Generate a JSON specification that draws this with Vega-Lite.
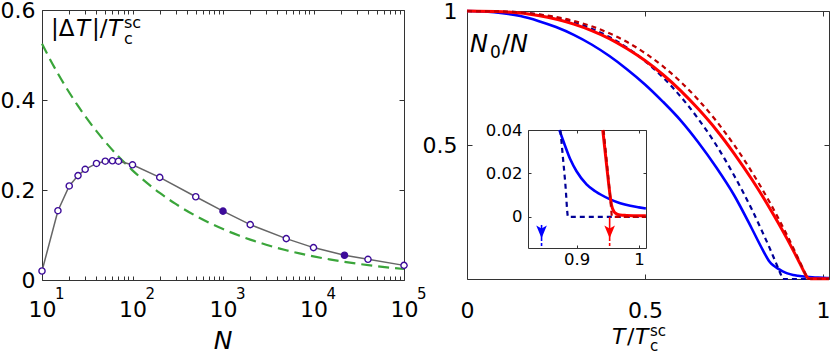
{
  "$schema": "https://vega.github.io/schema/vega-lite/v6.json",
  "width": 830,
  "height": 355,
  "autosize": {"type": "none"},
  "padding": 0,
  "background": "white",
  "datasets": {
    "pts": [
      {"N": 10, "v": 0.020, "filled": false},
      {"N": 15, "v": 0.154, "filled": false},
      {"N": 20, "v": 0.209, "filled": false},
      {"N": 25, "v": 0.232, "filled": false},
      {"N": 30, "v": 0.246, "filled": false},
      {"N": 40, "v": 0.259, "filled": false},
      {"N": 50, "v": 0.264, "filled": false},
      {"N": 60, "v": 0.265, "filled": false},
      {"N": 70, "v": 0.264, "filled": false},
      {"N": 100, "v": 0.256, "filled": false},
      {"N": 200, "v": 0.228, "filled": false},
      {"N": 500, "v": 0.185, "filled": false},
      {"N": 1000, "v": 0.153, "filled": true},
      {"N": 2000, "v": 0.123, "filled": false},
      {"N": 5000, "v": 0.092, "filled": false},
      {"N": 10000, "v": 0.072, "filled": false},
      {"N": 22000, "v": 0.055, "filled": true},
      {"N": 40000, "v": 0.046, "filled": false},
      {"N": 100000, "v": 0.0325, "filled": false}
    ],
    "green": [
      {"N": 10, "v": 0.525}, {"N": 12, "v": 0.494}, {"N": 15, "v": 0.4587}, {"N": 20, "v": 0.4167},
      {"N": 25, "v": 0.3868}, {"N": 30, "v": 0.364}, {"N": 40, "v": 0.3307}, {"N": 50, "v": 0.307},
      {"N": 70, "v": 0.2745}, {"N": 100, "v": 0.2437}, {"N": 150, "v": 0.2129}, {"N": 200, "v": 0.1934},
      {"N": 300, "v": 0.169}, {"N": 500, "v": 0.1425}, {"N": 700, "v": 0.1274}, {"N": 1000, "v": 0.1131},
      {"N": 1500, "v": 0.0988}, {"N": 2000, "v": 0.0898}, {"N": 3000, "v": 0.0784}, {"N": 5000, "v": 0.0661},
      {"N": 7000, "v": 0.0591}, {"N": 10000, "v": 0.0525}, {"N": 15000, "v": 0.0459}, {"N": 20000, "v": 0.0417},
      {"N": 30000, "v": 0.0364}, {"N": 50000, "v": 0.0307}, {"N": 70000, "v": 0.0274}, {"N": 100000, "v": 0.0244}
    ],
    "exps": [
      {"N": 10, "e": "1"}, {"N": 100, "e": "2"}, {"N": 1000, "e": "3"}, {"N": 10000, "e": "4"}, {"N": 100000, "e": "5"}
    ],
    "curves": [
      {"s": "bs", "t": 0, "v": 1}, {"s": "bs", "t": 0.05, "v": 0.998}, {"s": "bs", "t": 0.1, "v": 0.992},
      {"s": "bs", "t": 0.15, "v": 0.981}, {"s": "bs", "t": 0.2, "v": 0.963}, {"s": "bs", "t": 0.25, "v": 0.94},
      {"s": "bs", "t": 0.3, "v": 0.911}, {"s": "bs", "t": 0.35, "v": 0.875}, {"s": "bs", "t": 0.4, "v": 0.832},
      {"s": "bs", "t": 0.45, "v": 0.782}, {"s": "bs", "t": 0.5, "v": 0.726}, {"s": "bs", "t": 0.55, "v": 0.662},
      {"s": "bs", "t": 0.6, "v": 0.592}, {"s": "bs", "t": 0.65, "v": 0.5095}, {"s": "bs", "t": 0.7, "v": 0.417},
      {"s": "bs", "t": 0.75, "v": 0.3135}, {"s": "bs", "t": 0.8, "v": 0.1885}, {"s": "bs", "t": 0.83, "v": 0.1105},
      {"s": "bs", "t": 0.85, "v": 0.0645}, {"s": "bs", "t": 0.86, "v": 0.051},
      {"s": "bs", "t": 0.8725, "v": 0.04}, {"s": "bs", "t": 0.88, "v": 0.034}, {"s": "bs", "t": 0.89, "v": 0.0265},
      {"s": "bs", "t": 0.9, "v": 0.021}, {"s": "bs", "t": 0.916, "v": 0.015}, {"s": "bs", "t": 0.93, "v": 0.0118},
      {"s": "bs", "t": 0.953, "v": 0.0082}, {"s": "bs", "t": 0.97, "v": 0.0063}, {"s": "bs", "t": 0.986, "v": 0.0051},
      {"s": "bs", "t": 1.0, "v": 0.0044}, {"s": "bs", "t": 1.011, "v": 0.0039}, {"s": "bs", "t": 1.0169, "v": 0.0037},

      {"s": "bd", "t": 0, "v": 1}, {"s": "bd", "t": 0.1, "v": 0.998}, {"s": "bd", "t": 0.2, "v": 0.987},
      {"s": "bd", "t": 0.3, "v": 0.958}, {"s": "bd", "t": 0.35, "v": 0.934}, {"s": "bd", "t": 0.4, "v": 0.903},
      {"s": "bd", "t": 0.45, "v": 0.863}, {"s": "bd", "t": 0.5, "v": 0.813}, {"s": "bd", "t": 0.55, "v": 0.753},
      {"s": "bd", "t": 0.6, "v": 0.681}, {"s": "bd", "t": 0.65, "v": 0.597}, {"s": "bd", "t": 0.7, "v": 0.5},
      {"s": "bd", "t": 0.75, "v": 0.387}, {"s": "bd", "t": 0.8, "v": 0.26}, {"s": "bd", "t": 0.83, "v": 0.175},
      {"s": "bd", "t": 0.85, "v": 0.116}, {"s": "bd", "t": 0.86, "v": 0.085}, {"s": "bd", "t": 0.87, "v": 0.0535},
      {"s": "bd", "t": 0.8742, "v": 0.04}, {"s": "bd", "t": 0.878, "v": 0.028}, {"s": "bd", "t": 0.882, "v": 0.0155},
      {"s": "bd", "t": 0.8865, "v": 0}, {"s": "bd", "t": 1.011, "v": 0}, {"s": "bd", "t": 1.0169, "v": 0},

      {"s": "rs", "t": 0, "v": 1}, {"s": "rs", "t": 0.1, "v": 0.997}, {"s": "rs", "t": 0.2, "v": 0.983},
      {"s": "rs", "t": 0.3, "v": 0.951}, {"s": "rs", "t": 0.35, "v": 0.927}, {"s": "rs", "t": 0.4, "v": 0.897},
      {"s": "rs", "t": 0.45, "v": 0.859}, {"s": "rs", "t": 0.5, "v": 0.815}, {"s": "rs", "t": 0.55, "v": 0.763},
      {"s": "rs", "t": 0.6, "v": 0.703}, {"s": "rs", "t": 0.65, "v": 0.634}, {"s": "rs", "t": 0.7, "v": 0.557},
      {"s": "rs", "t": 0.75, "v": 0.469}, {"s": "rs", "t": 0.8, "v": 0.372}, {"s": "rs", "t": 0.85, "v": 0.265},
      {"s": "rs", "t": 0.9, "v": 0.148}, {"s": "rs", "t": 0.92, "v": 0.0975}, {"s": "rs", "t": 0.94, "v": 0.0455},
      {"s": "rs", "t": 0.942, "v": 0.04}, {"s": "rs", "t": 0.949, "v": 0.0216}, {"s": "rs", "t": 0.953, "v": 0.0115},
      {"s": "rs", "t": 0.956, "v": 0.0055}, {"s": "rs", "t": 0.96, "v": 0.0024}, {"s": "rs", "t": 0.965, "v": 0.0013},
      {"s": "rs", "t": 0.97, "v": 0.0009}, {"s": "rs", "t": 0.98, "v": 0.0007}, {"s": "rs", "t": 1.0, "v": 0.0005},
      {"s": "rs", "t": 1.011, "v": 0.0005}, {"s": "rs", "t": 1.0169, "v": 0.0005},

      {"s": "rd", "t": 0, "v": 1}, {"s": "rd", "t": 0.1, "v": 0.998}, {"s": "rd", "t": 0.2, "v": 0.988},
      {"s": "rd", "t": 0.3, "v": 0.963}, {"s": "rd", "t": 0.35, "v": 0.943}, {"s": "rd", "t": 0.4, "v": 0.917},
      {"s": "rd", "t": 0.45, "v": 0.884}, {"s": "rd", "t": 0.5, "v": 0.843}, {"s": "rd", "t": 0.55, "v": 0.794},
      {"s": "rd", "t": 0.6, "v": 0.736}, {"s": "rd", "t": 0.65, "v": 0.668}, {"s": "rd", "t": 0.7, "v": 0.59},
      {"s": "rd", "t": 0.75, "v": 0.501}, {"s": "rd", "t": 0.8, "v": 0.4}, {"s": "rd", "t": 0.85, "v": 0.287},
      {"s": "rd", "t": 0.9, "v": 0.161}, {"s": "rd", "t": 0.92, "v": 0.106}, {"s": "rd", "t": 0.94, "v": 0.0498},
      {"s": "rd", "t": 0.9433, "v": 0.04}, {"s": "rd", "t": 0.95, "v": 0.0207}, {"s": "rd", "t": 0.954, "v": 0.0089},
      {"s": "rd", "t": 0.957, "v": 0}, {"s": "rd", "t": 1.011, "v": 0}, {"s": "rd", "t": 1.0169, "v": 0}
    ],
    "arrows": [
      {"s": "b", "t": 0.844, "top": -0.0037, "head": -0.0066, "tip": -0.0097, "bottom": -0.0143},
      {"s": "r", "t": 0.953, "top": 0.0, "head": -0.0066, "tip": -0.0097, "bottom": -0.0143}
    ]
  },
  "layer": [
    {
      "layer": [
        {
          "data": {"name": "green"},
          "mark": {"type": "line", "color": "#3aa53a", "strokeWidth": 2.2, "strokeDash": [11, 6], "interpolate": "monotone"},
          "encoding": {
            "x": {"field": "N", "type": "quantitative",
              "scale": {"type": "log", "domain": [10, 100000], "range": [42, 404], "nice": false},
              "axis": {"orient": "bottom", "offset": -75, "title": null, "tickSize": -4, "labelPadding": 23, "labelDx": -2,
                "values": [10,20,30,40,50,60,70,80,90,100,200,300,400,500,600,700,800,900,1000,2000,3000,4000,5000,6000,7000,8000,9000,10000,20000,30000,40000,50000,60000,70000,80000,90000,100000],
                "labelExpr": "abs(log(datum.value)/LN10 - round(log(datum.value)/LN10)) < 0.001 ? '10' : ''"}},
            "y": {"field": "v", "type": "quantitative",
              "scale": {"domain": [0, 0.6], "range": [280, 10], "nice": false, "zero": false},
              "axis": {"orient": "left", "offset": -42, "title": null, "values": [0, 0.2, 0.4, 0.6], "format": "~g", "tickSize": -5, "labelPadding": 12}}
          }
        },
        {
          "data": {"name": "pts"},
          "mark": {"type": "line", "color": "#666666", "strokeWidth": 1.5},
          "encoding": {
            "x": {"field": "N", "type": "quantitative",
              "axis": {"orient": "top", "offset": -10, "title": null, "labels": false, "tickSize": -4,
                "values": [10,20,30,40,50,60,70,80,90,100,200,300,400,500,600,700,800,900,1000,2000,3000,4000,5000,6000,7000,8000,9000,10000,20000,30000,40000,50000,60000,70000,80000,90000,100000]}},
            "y": {"field": "v", "type": "quantitative",
              "axis": {"orient": "right", "offset": -426, "title": null, "labels": false, "values": [0, 0.2, 0.4, 0.6], "tickSize": -5}}
          }
        },
        {
          "data": {"name": "pts"},
          "mark": {"type": "point", "shape": "circle", "size": 38, "filled": true, "stroke": "#3d0c9a", "strokeWidth": 1.4, "opacity": 1},
          "encoding": {
            "x": {"field": "N", "type": "quantitative", "axis": null},
            "y": {"field": "v", "type": "quantitative", "axis": null},
            "fill": {"condition": {"test": "datum.filled", "value": "#3d0c9a"}, "value": "white"}
          }
        },
        {
          "data": {"name": "exps"},
          "mark": {"type": "text", "fontSize": 15, "align": "left", "baseline": "alphabetic", "dx": 13, "dy": 19, "color": "black"},
          "encoding": {
            "x": {"field": "N", "type": "quantitative", "axis": null},
            "y": {"datum": 0, "type": "quantitative", "axis": null},
            "text": {"field": "e"}
          }
        },
        {
          "data": {"values": [{}]},
          "mark": {"type": "text", "text": "N", "fontStyle": "italic", "fontSize": 25, "align": "center", "baseline": "alphabetic", "dy": 69, "color": "black"},
          "encoding": {"x": {"datum": 1000, "type": "quantitative", "axis": null}, "y": {"datum": 0, "type": "quantitative", "axis": null}}
        },
        {
          "data": {"values": [{}]},
          "mark": {"type": "text", "text": "|Δ", "fontSize": 23, "align": "left", "baseline": "alphabetic", "dx": 9, "dy": 26, "color": "black"},
          "encoding": {"x": {"datum": 10, "type": "quantitative", "axis": null}, "y": {"datum": 0.6, "type": "quantitative", "axis": null}}
        },
        {
          "data": {"values": [{}]},
          "mark": {"type": "text", "text": "T", "fontStyle": "italic", "fontSize": 23, "align": "left", "baseline": "alphabetic", "dx": 34, "dy": 26, "color": "black"},
          "encoding": {"x": {"datum": 10, "type": "quantitative", "axis": null}, "y": {"datum": 0.6, "type": "quantitative", "axis": null}}
        },
        {
          "data": {"values": [{}]},
          "mark": {"type": "text", "text": "|/", "fontSize": 23, "align": "left", "baseline": "alphabetic", "dx": 50, "dy": 26, "color": "black"},
          "encoding": {"x": {"datum": 10, "type": "quantitative", "axis": null}, "y": {"datum": 0.6, "type": "quantitative", "axis": null}}
        },
        {
          "data": {"values": [{}]},
          "mark": {"type": "text", "text": "T", "fontStyle": "italic", "fontSize": 23, "align": "left", "baseline": "alphabetic", "dx": 66, "dy": 26, "color": "black"},
          "encoding": {"x": {"datum": 10, "type": "quantitative", "axis": null}, "y": {"datum": 0.6, "type": "quantitative", "axis": null}}
        },
        {
          "data": {"values": [{}]},
          "mark": {"type": "text", "text": "sc", "fontSize": 16, "align": "left", "baseline": "alphabetic", "dx": 82, "dy": 18, "color": "black"},
          "encoding": {"x": {"datum": 10, "type": "quantitative", "axis": null}, "y": {"datum": 0.6, "type": "quantitative", "axis": null}}
        },
        {
          "data": {"values": [{}]},
          "mark": {"type": "text", "text": "c", "fontSize": 16, "align": "left", "baseline": "alphabetic", "dx": 82, "dy": 34, "color": "black"},
          "encoding": {"x": {"datum": 10, "type": "quantitative", "axis": null}, "y": {"datum": 0.6, "type": "quantitative", "axis": null}}
        }
      ],
      "resolve": {"axis": {"x": "independent", "y": "independent"}}
    },
    {
      "layer": [
        {
          "data": {"name": "curves"},
          "transform": [{"filter": "datum.s == 'bs'"}],
          "mark": {"type": "line", "color": "#0000ff", "strokeWidth": 2.6, "interpolate": "monotone"},
          "encoding": {
            "x": {"field": "t", "type": "quantitative",
              "scale": {"domain": [0, 1.0169], "range": [467, 829], "nice": false, "zero": false},
              "axis": {"orient": "bottom", "offset": -76, "title": null, "values": [0, 0.5, 1], "format": "~g", "tickSize": -5, "labelPadding": 26}},
            "y": {"field": "v", "type": "quantitative",
              "scale": {"domain": [0, 1], "range": [279, 11], "nice": false, "zero": false},
              "axis": {"orient": "left", "offset": -467, "title": null, "values": [0.5, 1], "format": "~g", "tickSize": -5, "labelPadding": 15}}
          }
        },
        {
          "data": {"name": "curves"},
          "transform": [{"filter": "datum.s == 'bd'"}],
          "mark": {"type": "line", "color": "#000096", "strokeWidth": 2.2, "strokeDash": [5, 4], "interpolate": "monotone"},
          "encoding": {
            "x": {"field": "t", "type": "quantitative",
              "axis": {"orient": "top", "offset": -11, "title": null, "labels": false, "values": [0, 0.5, 1], "tickSize": -5}},
            "y": {"field": "v", "type": "quantitative",
              "axis": {"orient": "right", "offset": -1, "title": null, "labels": false, "values": [0, 0.5, 1], "tickSize": -5}}
          }
        },
        {
          "data": {"name": "curves"},
          "transform": [{"filter": "datum.s == 'rs'"}],
          "mark": {"type": "line", "color": "#ff0000", "strokeWidth": 3, "interpolate": "monotone"},
          "encoding": {
            "x": {"field": "t", "type": "quantitative", "axis": null},
            "y": {"field": "v", "type": "quantitative", "axis": null}
          }
        },
        {
          "data": {"name": "curves"},
          "transform": [{"filter": "datum.s == 'rd'"}],
          "mark": {"type": "line", "color": "#c00000", "strokeWidth": 2.2, "strokeDash": [5, 4], "interpolate": "monotone"},
          "encoding": {
            "x": {"field": "t", "type": "quantitative", "axis": null},
            "y": {"field": "v", "type": "quantitative", "axis": null}
          }
        },
        {
          "data": {"values": [{}]},
          "mark": {"type": "text", "text": "N", "fontStyle": "italic", "fontSize": 24, "align": "left", "baseline": "alphabetic", "dx": 3, "dy": 41, "color": "black"},
          "encoding": {"x": {"datum": 0, "type": "quantitative", "axis": null}, "y": {"datum": 1, "type": "quantitative", "axis": null}}
        },
        {
          "data": {"values": [{}]},
          "mark": {"type": "text", "text": "0", "fontSize": 17, "align": "left", "baseline": "alphabetic", "dx": 23, "dy": 47, "color": "black"},
          "encoding": {"x": {"datum": 0, "type": "quantitative", "axis": null}, "y": {"datum": 1, "type": "quantitative", "axis": null}}
        },
        {
          "data": {"values": [{}]},
          "mark": {"type": "text", "text": "/", "fontSize": 24, "align": "left", "baseline": "alphabetic", "dx": 35, "dy": 41, "color": "black"},
          "encoding": {"x": {"datum": 0, "type": "quantitative", "axis": null}, "y": {"datum": 1, "type": "quantitative", "axis": null}}
        },
        {
          "data": {"values": [{}]},
          "mark": {"type": "text", "text": "N", "fontStyle": "italic", "fontSize": 24, "align": "left", "baseline": "alphabetic", "dx": 43, "dy": 41, "color": "black"},
          "encoding": {"x": {"datum": 0, "type": "quantitative", "axis": null}, "y": {"datum": 1, "type": "quantitative", "axis": null}}
        },
        {
          "data": {"values": [{}]},
          "mark": {"type": "text", "text": "T", "fontStyle": "italic", "fontSize": 22, "align": "left", "baseline": "alphabetic", "dx": 145, "dy": 65, "color": "black"},
          "encoding": {"x": {"datum": 0, "type": "quantitative", "axis": null}, "y": {"datum": 0, "type": "quantitative", "axis": null}}
        },
        {
          "data": {"values": [{}]},
          "mark": {"type": "text", "text": "/", "fontSize": 22, "align": "left", "baseline": "alphabetic", "dx": 160, "dy": 65, "color": "black"},
          "encoding": {"x": {"datum": 0, "type": "quantitative", "axis": null}, "y": {"datum": 0, "type": "quantitative", "axis": null}}
        },
        {
          "data": {"values": [{}]},
          "mark": {"type": "text", "text": "T", "fontStyle": "italic", "fontSize": 22, "align": "left", "baseline": "alphabetic", "dx": 168, "dy": 65, "color": "black"},
          "encoding": {"x": {"datum": 0, "type": "quantitative", "axis": null}, "y": {"datum": 0, "type": "quantitative", "axis": null}}
        },
        {
          "data": {"values": [{}]},
          "mark": {"type": "text", "text": "sc", "fontSize": 15, "align": "left", "baseline": "alphabetic", "dx": 183, "dy": 57, "color": "black"},
          "encoding": {"x": {"datum": 0, "type": "quantitative", "axis": null}, "y": {"datum": 0, "type": "quantitative", "axis": null}}
        },
        {
          "data": {"values": [{}]},
          "mark": {"type": "text", "text": "c", "fontSize": 15, "align": "left", "baseline": "alphabetic", "dx": 183, "dy": 72, "color": "black"},
          "encoding": {"x": {"datum": 0, "type": "quantitative", "axis": null}, "y": {"datum": 0, "type": "quantitative", "axis": null}}
        }
      ],
      "resolve": {"axis": {"x": "independent", "y": "independent"}}
    },
    {
      "layer": [
        {
          "data": {"name": "curves"},
          "transform": [{"filter": "datum.s == 'bs' && datum.t >= 0.82 && datum.t <= 1.0113 && datum.v <= 0.04001"}],
          "mark": {"type": "line", "color": "#0000ff", "strokeWidth": 2.6, "interpolate": "monotone"},
          "encoding": {
            "x": {"field": "t", "type": "quantitative",
              "scale": {"domain": [0.8223, 1.0112], "range": [528, 646], "nice": false, "zero": false},
              "axis": {"orient": "bottom", "offset": -107, "title": null, "values": [0.9, 1], "format": "~g", "labelFontSize": 16.5, "tickSize": -3, "labelPadding": 6}},
            "y": {"field": "v", "type": "quantitative",
              "scale": {"domain": [-0.0143, 0.04], "range": [248, 130], "nice": false, "zero": false},
              "axis": {"orient": "left", "offset": -528, "title": null, "values": [0, 0.02, 0.04], "format": "~g", "labelFontSize": 16.5, "tickSize": -3, "labelPadding": 9}}
          }
        },
        {
          "data": {"name": "curves"},
          "transform": [{"filter": "datum.s == 'bd' && datum.t >= 0.82 && datum.t <= 1.0113 && datum.v <= 0.04001"}],
          "mark": {"type": "line", "color": "#000096", "strokeWidth": 2.2, "strokeDash": [5, 4], "interpolate": "monotone"},
          "encoding": {
            "x": {"field": "t", "type": "quantitative",
              "axis": {"orient": "top", "offset": -130, "title": null, "labels": false, "values": [0.9, 1], "tickSize": -3}},
            "y": {"field": "v", "type": "quantitative",
              "axis": {"orient": "right", "offset": -184, "title": null, "labels": false, "values": [0, 0.02, 0.04], "tickSize": -3}}
          }
        },
        {
          "data": {"name": "curves"},
          "transform": [{"filter": "datum.s == 'rs' && datum.t >= 0.82 && datum.t <= 1.0113 && datum.v <= 0.04001"}],
          "mark": {"type": "line", "color": "#ff0000", "strokeWidth": 3, "interpolate": "monotone"},
          "encoding": {
            "x": {"field": "t", "type": "quantitative", "axis": null},
            "y": {"field": "v", "type": "quantitative", "axis": null}
          }
        },
        {
          "data": {"name": "curves"},
          "transform": [{"filter": "datum.s == 'rd' && datum.t >= 0.82 && datum.t <= 1.0113 && datum.v <= 0.04001"}],
          "mark": {"type": "line", "color": "#c00000", "strokeWidth": 2.2, "strokeDash": [5, 4], "interpolate": "monotone"},
          "encoding": {
            "x": {"field": "t", "type": "quantitative", "axis": null},
            "y": {"field": "v", "type": "quantitative", "axis": null}
          }
        },
        {
          "data": {"name": "arrows"},
          "mark": {"type": "rule", "strokeWidth": 1.6},
          "encoding": {
            "x": {"field": "t", "type": "quantitative", "axis": null},
            "y": {"field": "top", "type": "quantitative", "axis": null},
            "y2": {"field": "tip"},
            "color": {"field": "s", "type": "nominal", "scale": {"domain": ["b", "r"], "range": ["#0000ff", "#ff0000"]}, "legend": null}
          }
        },
        {
          "data": {"name": "arrows"},
          "mark": {"type": "rule", "strokeWidth": 1.6, "strokeDash": [3, 2]},
          "encoding": {
            "x": {"field": "t", "type": "quantitative", "axis": null},
            "y": {"field": "tip", "type": "quantitative", "axis": null},
            "y2": {"field": "bottom"},
            "color": {"field": "s", "type": "nominal", "legend": null}
          }
        },
        {
          "data": {"name": "arrows"},
          "mark": {"type": "point", "shape": "M0,1L-0.75,-0.8L0,-0.4L0.75,-0.8Z", "size": 200, "filled": true, "opacity": 1},
          "encoding": {
            "x": {"field": "t", "type": "quantitative", "axis": null},
            "y": {"field": "head", "type": "quantitative", "axis": null},
            "color": {"field": "s", "type": "nominal", "legend": null}
          }
        }
      ],
      "resolve": {"axis": {"x": "independent", "y": "independent"}}
    }
  ],
  "resolve": {"scale": {"x": "independent", "y": "independent"}},
  "config": {
    "view": {"stroke": null},
    "font": "DejaVu Sans",
    "text": {"font": "DejaVu Sans"},
    "axis": {
      "grid": false,
      "domain": true,
      "domainColor": "#333333",
      "domainWidth": 1,
      "ticks": true,
      "tickColor": "#333333",
      "tickWidth": 1,
      "labelFont": "DejaVu Sans",
      "labelFontSize": 22,
      "labelColor": "#000000",
      "labelFlush": false,
      "labelOverlap": false,
      "labelBound": false
    }
  }
}
